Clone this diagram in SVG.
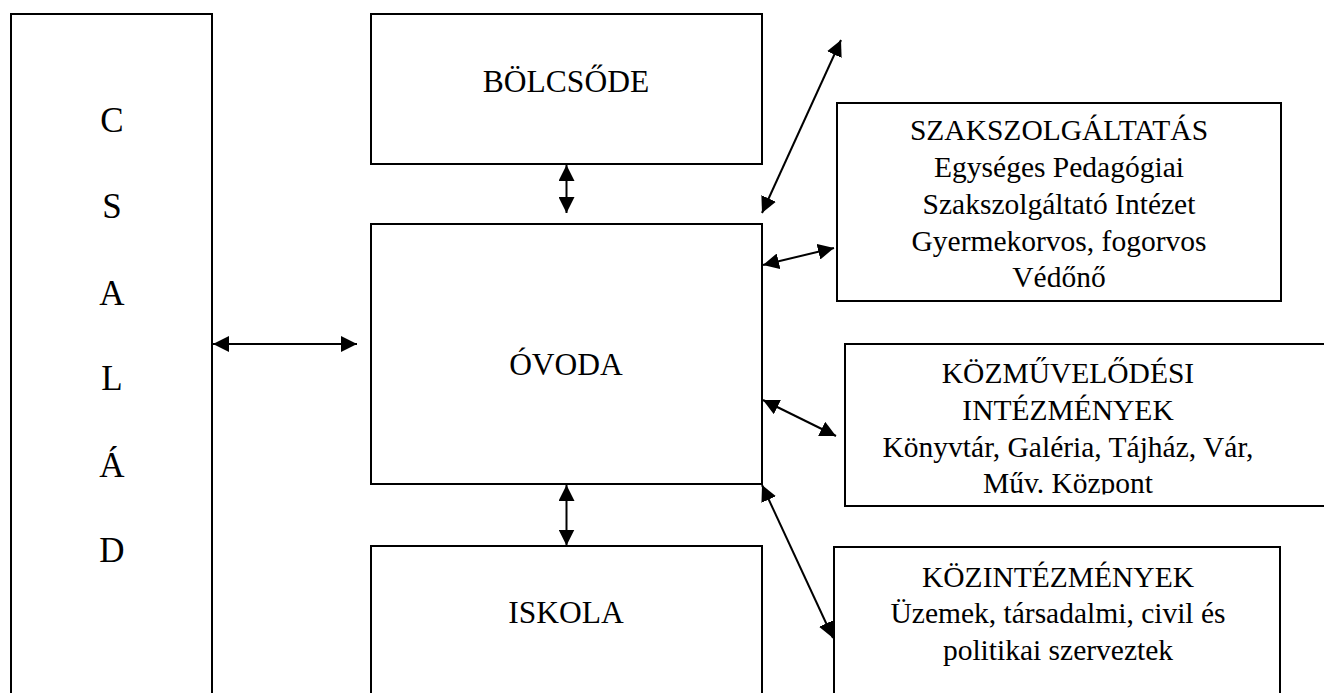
<svg xmlns="http://www.w3.org/2000/svg" width="1324" height="693" viewBox="0 0 1324 693">
<style>
.box{fill:#fff;stroke:#000;stroke-width:2}
.edge{fill:none;stroke:#000;stroke-width:2}
text{font-family:"Liberation Serif","Times New Roman",serif;fill:#000;text-anchor:middle}
.big{font-size:31.5px}
.sm{font-size:29.5px}
.let{font-size:35px}
</style>
<defs>
<marker id="ah" markerUnits="userSpaceOnUse" markerWidth="16" markerHeight="16" refX="15" refY="7.5" orient="auto-start-reverse" viewBox="0 0 15 15">
<path d="M0,0 L15,7.5 L0,15 z" fill="#000"/>
</marker>
<clipPath id="clipK"><rect x="840" y="330" width="490" height="164.5"/></clipPath>
</defs>
<rect width="1324" height="693" fill="#fff"/>
<g id="csalad">
<rect class="box" x="11" y="14" width="201" height="700"/>
<text class="let" x="112" y="132">C</text>
<text class="let" x="112" y="218">S</text>
<text class="let" x="112" y="304.5">A</text>
<text class="let" x="112" y="390">L</text>
<text class="let" x="112" y="476.5">Á</text>
<text class="let" x="112" y="562">D</text>
</g>
<g id="bolcsode">
<rect class="box" x="371" y="14" width="391" height="150"/>
<text class="big" x="566" y="92">BÖLCSŐDE</text>
</g>
<g id="ovoda">
<rect class="box" x="371" y="224" width="391" height="260"/>
<text class="big" x="566" y="375">ÓVODA</text>
</g>
<g id="iskola">
<rect class="box" x="371" y="546" width="391" height="200"/>
<text class="big" x="566" y="623">ISKOLA</text>
</g>
<g id="szakszolgaltatas">
<rect class="box" x="837" y="103" width="444" height="198"/>
<text class="sm" x="1059" y="140">SZAKSZOLGÁLTATÁS</text>
<text class="sm" x="1059" y="177">Egységes Pedagógiai</text>
<text class="sm" x="1059" y="214">Szakszolgáltató Intézet</text>
<text class="sm" x="1059" y="250.5">Gyermekorvos, fogorvos</text>
<text class="sm" x="1059" y="287">Védőnő</text>
</g>
<g id="kozmuvelodesi">
<rect class="box" x="845" y="344" width="500" height="162"/>
<g clip-path="url(#clipK)">
<text class="sm" x="1068" y="383.3">KÖZMŰVELŐDÉSI</text>
<text class="sm" x="1068" y="420">INTÉZMÉNYEK</text>
<text class="sm" x="1068" y="456.7">Könyvtár, Galéria, Tájház, Vár,</text>
<text class="sm" x="1068" y="493.3">Műv. Központ</text>
</g>
</g>
<g id="kozintezmenyek">
<rect class="box" x="834" y="547" width="446" height="200"/>
<text class="sm" x="1058" y="586.7">KÖZINTÉZMÉNYEK</text>
<text class="sm" x="1058" y="623.3">Üzemek, társadalmi, civil és</text>
<text class="sm" x="1058" y="660">politikai szerveztek</text>
</g>
<g id="connectors">
<line class="edge" x1="213" y1="344" x2="357" y2="344" marker-start="url(#ah)" marker-end="url(#ah)"/>
<line class="edge" x1="566.5" y1="165" x2="566.5" y2="213" marker-start="url(#ah)" marker-end="url(#ah)"/>
<line class="edge" x1="566.5" y1="485" x2="566.5" y2="545.5" marker-start="url(#ah)" marker-end="url(#ah)"/>
<line class="edge" x1="762" y1="213" x2="841" y2="40" marker-start="url(#ah)" marker-end="url(#ah)"/>
<line class="edge" x1="763" y1="265" x2="834" y2="248" marker-start="url(#ah)" marker-end="url(#ah)"/>
<line class="edge" x1="763" y1="400" x2="836" y2="436" marker-start="url(#ah)" marker-end="url(#ah)"/>
<line class="edge" x1="762" y1="485" x2="833" y2="638" marker-start="url(#ah)" marker-end="url(#ah)"/>
</g>
</svg>
